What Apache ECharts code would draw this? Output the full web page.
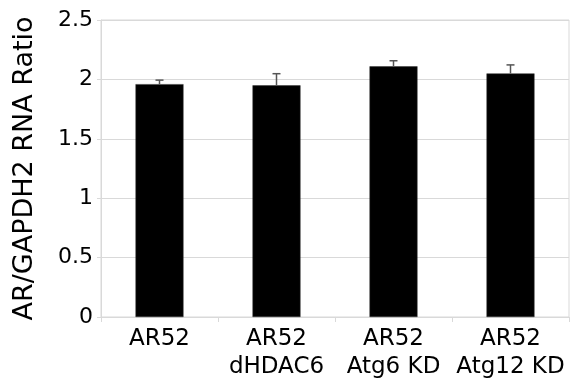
<!DOCTYPE html>
<html>
<head>
<meta charset="utf-8">
<script src="https://cdn.jsdelivr.net/npm/echarts@6/dist/echarts.min.js"></script>
<style>
  html, body { margin: 0; padding: 0; background: #fff; }
  #chart { width: 586px; height: 381px; }
</style>
</head>
<body>
<div id="chart"></div>
<script>
// AR/GAPDH2 RNA ratio per cell line, with standard error
const categories = ['AR52', 'AR52\ndHDAC6', 'AR52\nAtg6 KD', 'AR52\nAtg12 KD'];
const ratios = [1.96, 1.95, 2.11, 2.05];
const errors = [0.034, 0.098, 0.047, 0.072];
const yTicks = { min: 0, max: 2.5, interval: 0.5 };

const FONT = 'DejaVu Sans';
const GRID_COLOR = '#d9d9d9';

const chart = echarts.init(document.getElementById('chart'), null, { renderer: 'canvas' });

chart.setOption({
  animation: false,
  backgroundColor: '#fff',
  grid: {
    left: 101, right: 17, top: 20, bottom: 63,
    show: true, borderColor: GRID_COLOR, borderWidth: 1
  },
  xAxis: {
    type: 'category',
    data: categories,
    axisLine: { show: true, lineStyle: { color: GRID_COLOR, width: 1 } },
    axisTick: { show: true, length: 5, lineStyle: { color: GRID_COLOR } },
    axisLabel: {
      color: '#000', fontFamily: FONT, fontSize: 23, lineHeight: 28,
      margin: 8, interval: 0
    }
  },
  yAxis: {
    type: 'value',
    min: yTicks.min, max: yTicks.max, interval: yTicks.interval,
    name: 'AR/GAPDH2 RNA Ratio',
    nameLocation: 'middle',
    nameGap: 63,
    nameTextStyle: { color: '#000', fontFamily: FONT, fontSize: 27 },
    axisLine: { show: true, lineStyle: { color: GRID_COLOR, width: 1 } },
    axisTick: { show: true, length: 4, lineStyle: { color: GRID_COLOR } },
    axisLabel: { color: '#000', fontFamily: FONT, fontSize: 22, margin: 8 },
    splitLine: { show: true, lineStyle: { color: GRID_COLOR, width: 1 } }
  },
  series: [
    {
      type: 'bar',
      data: ratios,
      barWidth: 48,
      itemStyle: { color: '#000', borderColor: '#333', borderWidth: 0.5 },
      z: 2
    },
    {
      // upper error whiskers
      type: 'custom',
      z: 3,
      data: ratios.map((v, i) => [i, v, v + errors[i]]),
      renderItem: function (params, api) {
        const base = api.coord([api.value(0), api.value(1)]);
        const top = api.coord([api.value(0), api.value(2)]);
        const half = 4;
        const style = { stroke: '#555', lineWidth: 1.5 };
        return {
          type: 'group',
          children: [
            { type: 'line', shape: { x1: base[0], y1: base[1], x2: top[0], y2: top[1] }, style },
            { type: 'line', shape: { x1: top[0] - half, y1: top[1], x2: top[0] + half, y2: top[1] }, style }
          ]
        };
      }
    }
  ]
});
</script>
</body>
</html>
